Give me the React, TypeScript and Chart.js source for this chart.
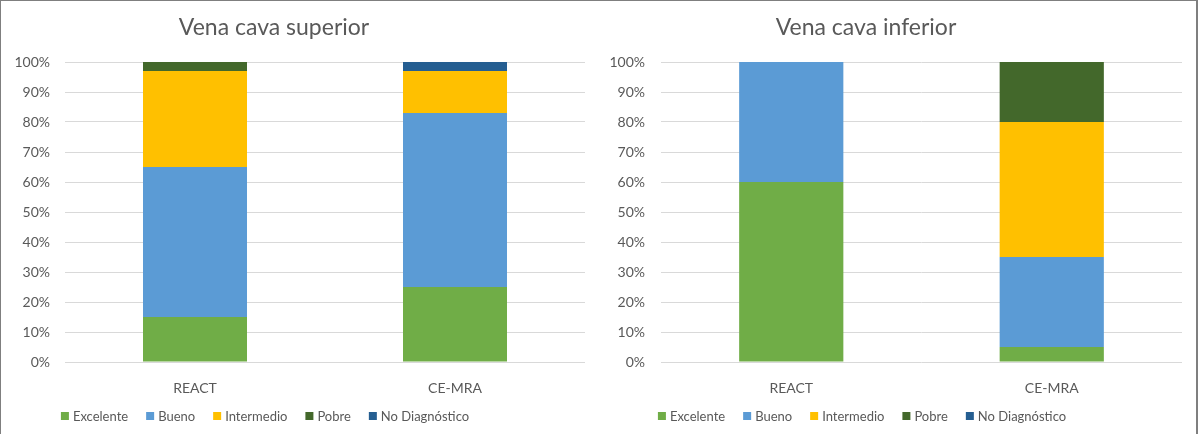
import React, { useEffect, useRef } from "react";
import { Chart, registerables } from "chart.js";

Chart.register(...registerables);

// Categories and series
const categories = ["REACT", "CE-MRA"];
const seriesNames = ["Excelente", "Bueno", "Intermedio", "Pobre", "No Diagnóstico"];
const seriesColors = ["#70AD47", "#5B9BD5", "#FFC000", "#43682B", "#255E91"];

// Vena cava superior (% of cases per quality grade)
const superiorExcelente = [15, 25];
const superiorBueno = [50, 58];
const superiorIntermedio = [32, 14];
const superiorPobre = [3, 0];
const superiorNoDiagnostico = [0, 3];

// Vena cava inferior (% of cases per quality grade)
const inferiorExcelente = [60, 5];
const inferiorBueno = [40, 30];
const inferiorIntermedio = [0, 45];
const inferiorPobre = [0, 20];
const inferiorNoDiagnostico = [0, 0];

const yTicks = [0, 10, 20, 30, 40, 50, 60, 70, 80, 90, 100];

const FONT = "Lato, 'Open Sans', sans-serif";
const TEXT = "#595959";

// Draws the panel title and a centred legend row
const panelDecor = {
  id: "panelDecor",
  afterDraw(chart: any, _args: any, opts: any) {
    const ctx = chart.ctx;
    ctx.save();
    ctx.fillStyle = TEXT;
    ctx.font = `23px ${FONT}`;
    ctx.textAlign = "center";
    ctx.textBaseline = "alphabetic";
    ctx.fillText(opts.title, opts.titleX, 35);

    ctx.font = `13px ${FONT}`;
    ctx.textAlign = "left";
    ctx.textBaseline = "middle";
    const box = 8;
    const gap = 4;
    const itemGap = 18;
    const items = chart.data.datasets.map((d: any) => ({
      label: d.label,
      color: d.backgroundColor,
      w: ctx.measureText(d.label).width,
    }));
    const total =
      items.reduce((s: number, it: any) => s + box + gap + it.w, 0) + itemGap * (items.length - 1);
    let x = opts.legendX - total / 2;
    const cy = 416;
    for (const it of items) {
      ctx.fillStyle = it.color;
      ctx.fillRect(x, cy - box / 2, box, box);
      ctx.fillStyle = TEXT;
      ctx.fillText(it.label, x + box + gap, cy + 0.5);
      x += box + gap + it.w + itemGap;
    }
    ctx.restore();
  },
};

type PanelProps = {
  title: string;
  values: number[][];
  titleX: number;
  legendX: number;
  yWidth: number;
  padRight: number;
  tickPad: number;
  left: number;
};

function StackPanel({ title, values, titleX, legendX, yWidth, padRight, tickPad, left }: PanelProps) {
  const ref = useRef<HTMLCanvasElement | null>(null);

  useEffect(() => {
    if (!ref.current) return;
    const chart = new Chart(ref.current, {
      type: "bar",
      data: {
        labels: categories,
        datasets: seriesNames.map((name, i) => ({
          label: name,
          data: values[i],
          backgroundColor: seriesColors[i],
          borderWidth: 0,
          barPercentage: 0.4,
          categoryPercentage: 1,
        })),
      },
      options: {
        responsive: false,
        animation: false,
        devicePixelRatio: 1,
        layout: { padding: { top: 62, right: padRight, bottom: 0, left: 0 } },
        plugins: {
          legend: { display: false },
          title: { display: false },
          tooltip: { enabled: false },
          panelDecor: { title, titleX, legendX },
        } as any,
        scales: {
          x: {
            stacked: true,
            grid: { display: false },
            border: { display: false },
            ticks: { color: TEXT, font: { family: FONT, size: 14 }, padding: 10 },
            afterFit: (s: any) => {
              s.height = 72;
            },
          },
          y: {
            stacked: true,
            min: 0,
            max: 100,
            afterBuildTicks: (s: any) => {
              s.ticks = yTicks.map((v) => ({ value: v }));
            },
            grid: { color: "#D9D9D9", lineWidth: 1, drawTicks: false },
            border: { display: false },
            ticks: {
              color: TEXT,
              font: { family: FONT, size: 14 },
              padding: tickPad,
              callback: (v: any) => `${v}%`,
            },
            afterFit: (s: any) => {
              s.width = yWidth;
            },
          },
        },
      },
      plugins: [panelDecor],
    });
    return () => chart.destroy();
  }, []);

  return (
    <canvas
      ref={ref}
      width={600}
      height={434}
      style={{ position: "absolute", left, top: 0, width: 600, height: 434 }}
    />
  );
}

export default function App() {
  return (
    <div
      style={{
        position: "absolute",
        left: 0,
        top: 0,
        width: 1200,
        height: 434,
        background: "#fff",
        overflow: "hidden",
      }}
    >
      <StackPanel
        title="Vena cava superior"
        values={[superiorExcelente, superiorBueno, superiorIntermedio, superiorPobre, superiorNoDiagnostico]}
        titleX={274}
        legendX={265}
        yWidth={65}
        padRight={15}
        tickPad={15}
        left={0}
      />
      <StackPanel
        title="Vena cava inferior"
        values={[inferiorExcelente, inferiorBueno, inferiorIntermedio, inferiorPobre, inferiorNoDiagnostico]}
        titleX={266}
        legendX={262}
        yWidth={61}
        padRight={18}
        tickPad={16}
        left={600}
      />
      <div style={{ position: "absolute", left: 0, top: 0, width: 1198, height: 1, background: "#7F7F7F" }} />
      <div style={{ position: "absolute", left: 0, top: 0, width: 1, height: 434, background: "#7F7F7F" }} />
      <div style={{ position: "absolute", left: 1196, top: 0, width: 2, height: 434, background: "#7F7F7F" }} />
    </div>
  );
}
